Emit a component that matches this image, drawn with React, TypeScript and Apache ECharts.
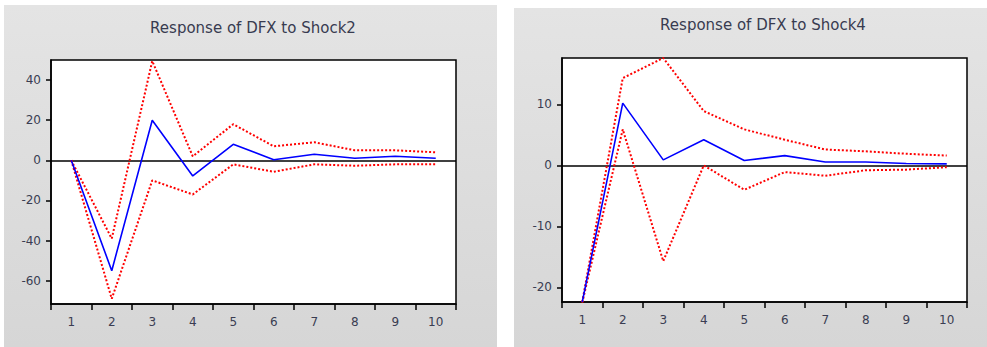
import React, { useEffect, useRef } from "react";
import * as echarts from "echarts";

const periods = ["1", "2", "3", "4", "5", "6", "7", "8", "9", "10"];

const shock2Title = "Response of DFX to Shock2";
const shock2Resp = [0, -55, 20, -7.8, 8, 0.3, 3, 1, 2, 1];
const shock2Upper = [0, -39, 49.5, 2, 18, 7, 9, 5, 5, 4];
const shock2Lower = [0, -69, -10, -17, -2, -5.7, -2, -2.7, -2, -2];
const shock2Ticks = [-60, -40, -20, 0, 20, 40];

const shock4Title = "Response of DFX to Shock4";
const shock4Resp = [-22.4, 10.2, 0.9, 4.2, 0.8, 1.6, 0.55, 0.55, 0.3, 0.25];
const shock4Upper = [-22.4, 14.3, 17.6, 8.9, 5.9, 4.2, 2.6, 2.3, 1.9, 1.6];
const shock4Lower = [-22.5, 5.9, -15.7, 0, -4.0, -1.1, -1.7, -0.8, -0.7, -0.3];
const shock4Ticks = [-20, -10, 0, 10];

const labelColor = "#3a3d52";
const fontFamily = "DejaVu Sans";

function makeAxes(gridIndex: number, min: number, max: number, ticks: number[]) {
  const xAxis = {
    type: "category",
    gridIndex,
    data: periods,
    boundaryGap: true,
    axisLine: { show: true, onZero: false, lineStyle: { color: "#000", width: 1.5 } },
    axisTick: { show: true, inside: false, length: 6, interval: 0, lineStyle: { color: "#000", width: 1.5 } },
    axisLabel: { interval: 0, color: labelColor, fontSize: 12, fontFamily, margin: 12 },
    splitLine: { show: false },
  };
  const yAxis = {
    type: "value",
    gridIndex,
    min,
    max,
    axisLine: { show: true, onZero: false, lineStyle: { color: "#000", width: 1.5 } },
    axisTick: { show: true, inside: false, length: 5, customValues: ticks, lineStyle: { color: "#000", width: 1.5 } },
    axisLabel: { color: labelColor, fontSize: 12, fontFamily, margin: 10, customValues: ticks },
    splitLine: { show: false },
  };
  return { xAxis, yAxis };
}

function makeSeries(idx: number, resp: number[], upper: number[], lower: number[]) {
  const red = {
    type: "line",
    xAxisIndex: idx,
    yAxisIndex: idx,
    symbol: "none",
    lineStyle: { color: "#ff0000", width: 2, type: [2, 2] },
    z: 3,
  };
  return [
    { ...red, name: "upper" + idx, data: upper },
    { ...red, name: "lower" + idx, data: lower },
    {
      type: "line",
      name: "resp" + idx,
      xAxisIndex: idx,
      yAxisIndex: idx,
      data: resp,
      symbol: "none",
      lineStyle: { color: "#0000ff", width: 1.6 },
      z: 4,
      markLine: {
        silent: true,
        symbol: ["none", "none"],
        label: { show: false },
        lineStyle: { color: "#000", type: "solid", width: 1.5 },
        data: [{ yAxis: 0 }],
        z: 2,
      },
    },
  ];
}

export default function App() {
  const ref = useRef<HTMLDivElement>(null);
  useEffect(() => {
    if (!ref.current) return;
    const chart = echarts.init(ref.current, null, { renderer: "svg" });
    const a0 = makeAxes(0, -71.6, 50, shock2Ticks);
    const a1 = makeAxes(1, -22.4, 17.6, shock4Ticks);
    const bg = (x: number, y: number, w: number, h: number) => ({
      type: "rect",
      shape: { x, y, width: w, height: h },
      style: {
        fill: new echarts.graphic.LinearGradient(0, 0, 0, 1, [
          { offset: 0, color: "#e4e4e4" },
          { offset: 1, color: "#d6d6d6" },
        ]),
      },
      z: -10,
      silent: true,
    });
    const title = (text: string, x: number, y: number) => ({
      type: "text",
      x,
      y,
      style: {
        text,
        fill: "#383b50",
        font: `15px ${fontFamily}`,
        align: "center",
        verticalAlign: "middle",
      },
      z: 10,
      silent: true,
    });
    chart.setOption({
      animation: false,
      backgroundColor: "#ffffff",
      graphic: [
        bg(4, 5, 493, 342),
        bg(514, 8, 473, 339),
        title(shock2Title, 253, 28),
        title(shock4Title, 763, 25),
      ],
      grid: [
        { left: 51, top: 60, width: 405, height: 244, show: true, backgroundColor: "#fff", borderColor: "#000", borderWidth: 1.5, containLabel: false },
        { left: 562, top: 58, width: 405, height: 244, show: true, backgroundColor: "#fff", borderColor: "#000", borderWidth: 1.5, containLabel: false },
      ],
      xAxis: [a0.xAxis, a1.xAxis],
      yAxis: [a0.yAxis, a1.yAxis],
      series: [
        ...makeSeries(0, shock2Resp, shock2Upper, shock2Lower),
        ...makeSeries(1, shock4Resp, shock4Upper, shock4Lower),
      ],
    });
    return () => chart.dispose();
  }, []);
  return (
    <div
      ref={ref}
      style={{ position: "fixed", left: 0, top: 0, width: 987, height: 347 }}
    />
  );
}
